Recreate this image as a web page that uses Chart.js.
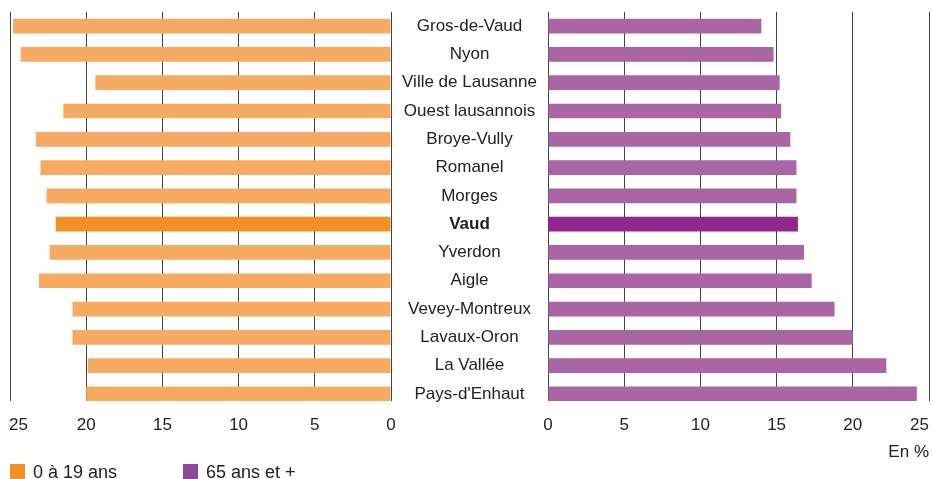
<!DOCTYPE html>
<html><head><meta charset="utf-8">
<script src="https://cdn.jsdelivr.net/npm/chart.js@4.4.1/dist/chart.umd.min.js"></script>
<style>
html,body{margin:0;padding:0;background:#fff;overflow:hidden;}
#wrap{position:relative;width:932px;height:479px;}
canvas{position:absolute;left:0;top:0;}
.leg{position:absolute;font-family:"Liberation Sans",Arial,sans-serif;font-size:18px;color:#222;line-height:18px;white-space:nowrap;}
.sw{position:absolute;width:15px;height:15px;}
</style></head><body>
<div id="wrap">
<canvas id="cLeft" width="932" height="479"></canvas>
<canvas id="cRight" width="932" height="479"></canvas>
<div class="sw" style="left:10px;top:464px;background:#F39025"></div>
<div class="leg" id="legYoung" style="left:33px;top:463px"></div>
<div class="sw" style="left:183px;top:464px;background:#8C489B"></div>
<div class="leg" id="legOld" style="left:206px;top:463px"></div>
</div>
<script>
const categories = ['Gros-de-Vaud','Nyon','Ville de Lausanne','Ouest lausannois','Broye-Vully','Romanel','Morges','Vaud','Yverdon','Aigle','Vevey-Montreux','Lavaux-Oron','La Vallée',"Pays-d'Enhaut"];
const young = [24.8,24.3,19.4,21.5,23.3,23.0,22.6,22.0,22.4,23.1,20.9,20.9,19.9,20.0];
const senior = [14.0,14.8,15.2,15.3,15.9,16.3,16.3,16.4,16.8,17.3,18.8,20.0,22.2,24.2];
const xTicks = [0,5,10,15,20,25];
const seriesNames = ['0 à 19 ans','65 ans et +'];
const unitLabel = 'En %';
const highlight = 'Vaud';

document.getElementById('legYoung').textContent = seriesNames[0];
document.getElementById('legOld').textContent = seriesNames[1];

const FONT = '"Liberation Sans",Arial,sans-serif';
const TXT = '#222222';
const GRID = '#444444';

const edgeLabels = {
  id: 'edgeLabels',
  beforeDraw(chart, args, opts) {
    const xs = chart.scales.x;
    xs.getLabelItems().forEach(it => {
      if (it.label === '25') {
        if (opts.side === 'left') { it.options.textAlign = 'left'; it.options.translation[0] = xs.left - 1; }
        else { it.options.textAlign = 'right'; it.options.translation[0] = xs.right; }
      }
    });
    if (opts.side === 'right') {
      const ys = chart.scales.y;
      const cx = (ys.left + ys.right) / 2;
      ys.getLabelItems().forEach(it => {
        it.options.textAlign = 'center';
        it.options.translation[0] = cx;
      });
    }
  }
};

function xScale(reverse, withTitle) {
  return {
    type: 'linear', min: 0, max: 25, reverse: reverse,
    afterBuildTicks: s => { s.ticks = xTicks.map(v => ({value: v})); },
    afterFit: s => { s.height = 78; s.paddingLeft = 0; s.paddingRight = 0; },
    grid: {color: GRID, lineWidth: 1, drawTicks: false},
    border: {display: false},
    ticks: {color: TXT, padding: 14, font: {family: FONT, size: 17}},
    title: withTitle ? {display: true, text: unitLabel, align: 'end', color: TXT, font: {family: FONT, size: 17}, padding: {top: 0, bottom: 16}} : {display: false}
  };
}

function yScale(show) {
  return {
    type: 'linear', min: -0.5, max: 13.25, reverse: true, display: show, offset: false,
    afterBuildTicks: s => { s.ticks = categories.map((_, i) => ({value: i})); },
    afterFit: s => { if (show) { s.width = 157; } s.paddingTop = 0; s.paddingBottom = 0; },
    grid: {display: false, drawTicks: false, offset: false},
    border: {display: false},
    ticks: {
      color: TXT, padding: 0, autoSkip: false,
      callback: v => categories[v],
      font: ctx => ({family: FONT, size: 17, weight: (ctx.tick && categories[ctx.tick.value] === highlight) ? 'bold' : 'normal'})
    }
  };
}

new Chart(document.getElementById('cLeft'), {
  type: 'bar',
  data: {datasets: [{
    label: seriesNames[0],
    data: young.map((v, i) => ({x: v, y: i})),
    backgroundColor: categories.map(c => c === highlight ? '#F39025' : '#F7AB62'),
    barPercentage: 0.52, categoryPercentage: 1
  }]},
  options: {
    indexAxis: 'y', responsive: false, animation: false,
    layout: {padding: {left: 10, right: 541, top: 12, bottom: 0}},
    plugins: {legend: {display: false}, tooltip: {enabled: false}, edgeLabels: {side: 'left'}},
    scales: {x: xScale(true, false), y: yScale(false)}
  },
  plugins: [edgeLabels]
});

new Chart(document.getElementById('cRight'), {
  type: 'bar',
  data: {datasets: [{
    label: seriesNames[1],
    data: senior.map((v, i) => ({x: v, y: i})),
    backgroundColor: categories.map(c => c === highlight ? '#93278F' : '#A965A4'),
    barPercentage: 0.52, categoryPercentage: 1
  }]},
  options: {
    indexAxis: 'y', responsive: false, animation: false,
    layout: {padding: {left: 391, right: 3, top: 12, bottom: 0}},
    plugins: {legend: {display: false}, tooltip: {enabled: false}, edgeLabels: {side: 'right'}},
    scales: {x: xScale(false, true), y: yScale(true)}
  },
  plugins: [edgeLabels]
});
</script>
</body></html>
